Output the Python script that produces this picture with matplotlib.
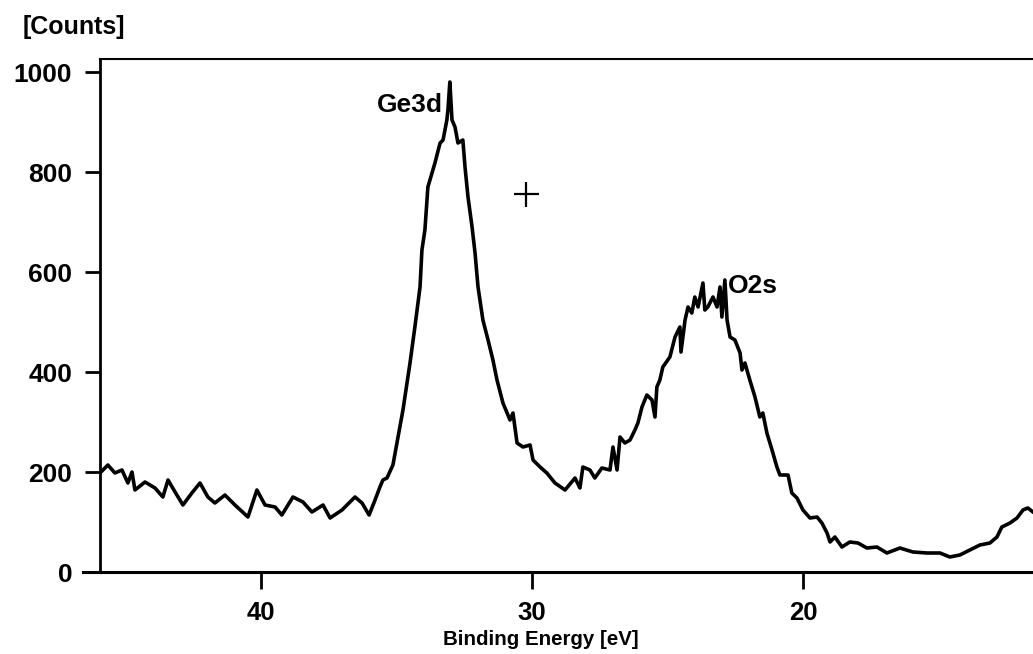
import matplotlib
matplotlib.use("Agg")
from matplotlib import pyplot as plt
from matplotlib.lines import Line2D

# binding energy [eV] and counts
energy = [45.94, 45.65, 45.39, 45.13, 44.91, 44.76, 44.65, 44.28, 43.91, 43.62,
          43.43, 43.17, 42.88, 42.55, 42.25, 41.96, 41.70, 41.33, 40.96, 40.48,
          40.15, 39.85, 39.48, 39.23, 38.82, 38.45, 38.12, 37.71, 37.45, 37.01,
          36.53, 36.27, 36.01, 35.79, 35.61, 35.50, 35.35, 35.13, 34.76, 34.50,
          34.32, 34.13, 34.06, 33.95, 33.84, 33.69, 33.58, 33.39, 33.28, 33.14,
          33.10, 33.03, 32.95, 32.84, 32.73, 32.55, 32.47, 32.36, 32.21, 32.10,
          31.99, 31.81, 31.62, 31.44, 31.29, 31.07, 30.81, 30.70, 30.55, 30.33,
          30.07, 29.96, 29.70, 29.45, 29.15, 28.78, 28.41, 28.23, 28.12, 27.86,
          27.68, 27.42, 27.12, 27.01, 26.86, 26.75, 26.57, 26.38, 26.20, 26.09,
          25.94, 25.76, 25.57, 25.46, 25.39, 25.28, 25.17, 24.91, 24.72, 24.54,
          24.50, 24.35, 24.24, 24.10, 23.99, 23.87, 23.69, 23.62, 23.51, 23.32,
          23.17, 23.06, 22.99, 22.88, 22.80, 22.69, 22.51, 22.32, 22.25, 22.14,
          21.96, 21.77, 21.59, 21.48, 21.33, 21.14, 20.96, 20.85, 20.55, 20.41,
          20.22, 20.00, 19.74, 19.48, 19.30, 19.11, 19.00, 18.82, 18.56, 18.27,
          17.97, 17.64, 17.27, 16.90, 16.42, 15.94, 15.42, 14.94, 14.58, 14.21,
          13.84, 13.47, 13.10, 12.84, 12.66, 12.36, 12.10, 11.88, 11.70, 11.51]
counts = [198, 214, 198, 204, 178, 200, 164, 180, 168, 150,
          184, 160, 134, 158, 178, 150, 138, 154, 134, 110,
          164, 134, 130, 114, 150, 140, 120, 134, 108, 124,
          150, 138, 114, 144, 170, 184, 188, 214, 324, 418,
          490, 570, 644, 684, 770, 798, 818, 858, 864, 904,
          924, 980, 904, 890, 858, 864, 810, 750, 690, 638,
          570, 504, 464, 424, 384, 338, 304, 318, 258, 250,
          254, 224, 210, 198, 178, 164, 188, 168, 210, 204,
          188, 208, 204, 250, 204, 270, 258, 264, 284, 298,
          330, 354, 344, 310, 370, 384, 410, 430, 470, 490,
          440, 504, 530, 518, 550, 530, 578, 524, 530, 550,
          530, 570, 510, 584, 504, 470, 464, 438, 404, 418,
          384, 350, 310, 318, 278, 244, 210, 194, 194, 158,
          148, 124, 108, 110, 98, 78, 60, 70, 50, 60,
          58, 48, 50, 38, 48, 40, 38, 38, 30, 34,
          44, 54, 58, 70, 90, 98, 108, 124, 128, 120]

yticks = [0, 200, 400, 600, 800, 1000]
xticks = [40, 30, 20]

peak_labels = ["Ge3d", "O2s"]
peak_pos = [(35.72, 934), (22.77, 572)]
cursor = (30.22, 756)

plt.rcParams['font.family'] = ['Liberation Sans', 'DejaVu Sans']
plt.rcParams['font.weight'] = 'bold'

fig = plt.figure(figsize=(10.33, 6.54), dpi=100)
ax = fig.add_axes([100/1033, 82/654, 933/1033, 513/654])

ax.plot(energy, counts, color='black', lw=2.6)
ax.set_xlim(45.94, 11.51)
ax.set_ylim(0, 1026)

ax.set_xticks(xticks)
ax.set_yticks(yticks)
ax.tick_params(axis='x', direction='out', length=12, width=2, pad=9, labelsize=18.5)
ax.tick_params(axis='y', direction='out', length=11, width=2, pad=9, labelsize=19)
for lab in ax.get_xticklabels() + ax.get_yticklabels():
    lab.set_fontweight('bold')

ax.spines['right'].set_visible(False)
ax.spines['left'].set_linewidth(2)
ax.spines['bottom'].set_linewidth(2.2)
ax.spines['top'].set_linewidth(1.5)

# bottom axis line runs a bit past the y axis
fig.add_artist(Line2D([83/1033, 100/1033], [82/654, 82/654], color='black', lw=2.2))

for txt, (x, y) in zip(peak_labels, peak_pos):
    ax.text(x, y, txt, ha='left', va='center', fontsize=19, fontweight='bold')

ax.plot(cursor[0], cursor[1], marker='+', ms=18, mew=1.6, color='black')

ax.set_xlabel("Binding Energy [eV]", fontsize=14.8, fontweight='bold')
ax.xaxis.set_label_coords(0.4727, -0.113)
fig.text(74/1033, 1 - 27/654, "[Counts]", ha='center', va='center',
         fontsize=18, fontweight='bold')

fig.savefig("out.png", dpi=100)
